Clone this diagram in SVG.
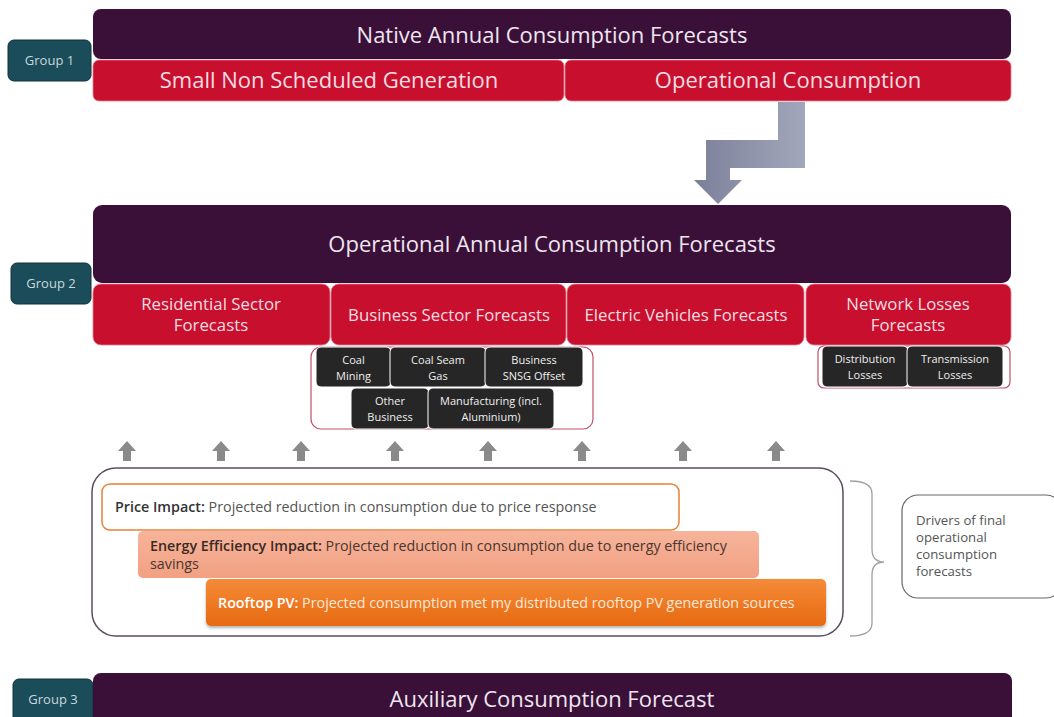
<svg xmlns="http://www.w3.org/2000/svg" width="1054" height="717" viewBox="0 0 1054 717">
<defs>
<style>
text{font-family:"Open Sans","Noto Sans","DejaVu Sans",sans-serif}
.grp{fill:#1b4c59;stroke:#10323c;stroke-width:1}
.grpt{fill:#c9d9dd;font-size:13px;text-anchor:middle}
.purple{fill:#3a1039}
.pt{fill:#eee6ee;font-size:22px;text-anchor:middle}
.red{fill:#c8102e;stroke:#e08090;stroke-width:0.8}
.rt{fill:#f6dde1;font-size:22px;text-anchor:middle}
.rt2{fill:#f6dde1;font-size:16.8px;text-anchor:middle}
.blk{fill:#262626;stroke:#ffffff;stroke-width:1}
.bt{fill:#f0f0f0;font-size:11px;text-anchor:middle}
.sub{fill:#ffffff;stroke:#c0506a;stroke-width:1.2}
.up{fill:#8a8a8a}
.dt{font-size:14.3px}
.bold{font-weight:600}
.note{font-size:13.2px;fill:#555555}
</style>
<linearGradient id="arrowGrad" x1="0" y1="0" x2="1" y2="0">
<stop offset="0" stop-color="#7b8099"/>
<stop offset="1" stop-color="#a3a7bb"/>
</linearGradient>
<linearGradient id="eeGrad" x1="0" y1="0" x2="0" y2="1">
<stop offset="0" stop-color="#f6b49a"/>
<stop offset="1" stop-color="#f2a083"/>
</linearGradient>
<linearGradient id="pvGrad" x1="0" y1="0" x2="0" y2="1">
<stop offset="0" stop-color="#f48a38"/>
<stop offset="1" stop-color="#e86a12"/>
</linearGradient>
<filter id="sh" x="-5%" y="-20%" width="110%" height="150%">
<feDropShadow dx="0" dy="2" stdDeviation="1.5" flood-color="#000" flood-opacity="0.3"/>
</filter>
</defs>
<rect width="1054" height="717" fill="#ffffff"/>

<g id="group1-label">
<rect class="grp" x="8" y="40" width="83" height="41" rx="6"/>
<text class="grpt" x="49.5" y="65">Group 1</text>
</g>
<g id="native">
<rect class="purple" x="93" y="9" width="918" height="50" rx="8"/>
<text class="pt" x="552" y="43">Native Annual Consumption Forecasts</text>
</g>
<g id="snsg">
<rect class="red" x="93" y="60" width="471" height="41" rx="6"/>
<text class="rt" x="329" y="88">Small Non Scheduled Generation</text>
</g>
<g id="opcons">
<rect class="red" x="565" y="60" width="446" height="41" rx="6"/>
<text class="rt" x="788" y="88">Operational Consumption</text>
</g>

<g id="connectors">
<polygon fill="url(#arrowGrad)" points="778,102 805,102 805,168 730,168 730,180 742,180 718,204 694,180 706,180 706,140 778,140"/>
<g id="up-arrows" class="up">
<polygon points="127,441 136,451 131,451 131,461 123,461 123,451 118,451"/>
<polygon points="221,441 230,451 225,451 225,461 217,461 217,451 212,451"/>
<polygon points="301,441 310,451 305,451 305,461 297,461 297,451 292,451"/>
<polygon points="395,441 404,451 399,451 399,461 391,461 391,451 386,451"/>
<polygon points="488,441 497,451 492,451 492,461 484,461 484,451 479,451"/>
<polygon points="582,441 591,451 586,451 586,461 578,461 578,451 573,451"/>
<polygon points="683,441 692,451 687,451 687,461 679,461 679,451 674,451"/>
<polygon points="776,441 785,451 780,451 780,461 772,461 772,451 767,451"/>
</g>
<path d="M850,481 Q872,481 872,494 L872,549 Q872,562 884,562 Q872,562 872,575 L872,623 Q872,636 850,636" fill="none" stroke="#a0a0a0" stroke-width="1.3"/>
</g>

<g id="group2-label">
<rect class="grp" x="11" y="263" width="80" height="41" rx="6"/>
<text class="grpt" x="51" y="288">Group 2</text>
</g>
<g id="opannual">
<rect class="purple" x="93" y="205" width="918" height="78" rx="9"/>
<text class="pt" x="552" y="252">Operational Annual Consumption Forecasts</text>
</g>
<g id="residential">
<rect class="red" x="93" y="284" width="237" height="61" rx="8"/>
<text class="rt2" x="211" y="310">Residential Sector</text>
<text class="rt2" x="211" y="331">Forecasts</text>
</g>
<g id="business">
<rect class="red" x="331" y="284" width="235" height="61" rx="8"/>
<text class="rt2" x="449" y="321">Business Sector Forecasts</text>
</g>
<g id="ev">
<rect class="red" x="567" y="284" width="237" height="61" rx="8"/>
<text class="rt2" x="686" y="321">Electric Vehicles Forecasts</text>
</g>
<g id="network">
<rect class="red" x="806" y="284" width="205" height="61" rx="8"/>
<text class="rt2" x="908" y="310">Network Losses</text>
<text class="rt2" x="908" y="331">Forecasts</text>
</g>

<g id="business-subgroup">
<rect class="sub" x="311" y="347" width="282" height="82" rx="10"/>
</g>
<g id="coal-mining">
<rect class="blk" x="316" y="347" width="75" height="40" rx="5"/>
<text class="bt" x="353.5" y="364">Coal</text>
<text class="bt" x="353.5" y="380">Mining</text>
</g>
<g id="coal-seam-gas">
<rect class="blk" x="390" y="347" width="96" height="40" rx="5"/>
<text class="bt" x="438" y="364">Coal Seam</text>
<text class="bt" x="438" y="380">Gas</text>
</g>
<g id="snsg-offset">
<rect class="blk" x="485" y="347" width="98" height="40" rx="5"/>
<text class="bt" x="534" y="364">Business</text>
<text class="bt" x="534" y="380">SNSG Offset</text>
</g>
<g id="other-business">
<rect class="blk" x="351" y="388" width="78" height="41" rx="5"/>
<text class="bt" x="390" y="405">Other</text>
<text class="bt" x="390" y="421">Business</text>
</g>
<g id="manufacturing">
<rect class="blk" x="428" y="388" width="126" height="41" rx="5"/>
<text class="bt" x="491" y="405">Manufacturing (incl.</text>
<text class="bt" x="491" y="421">Aluminium)</text>
</g>

<g id="network-subgroup">
<rect class="sub" x="818" y="346" width="192" height="42" rx="6"/>
</g>
<g id="distribution">
<rect class="blk" x="822" y="346" width="86" height="41" rx="5"/>
<text class="bt" x="865" y="363">Distribution</text>
<text class="bt" x="865" y="379">Losses</text>
</g>
<g id="transmission">
<rect class="blk" x="907" y="346" width="96" height="41" rx="5"/>
<text class="bt" x="955" y="363">Transmission</text>
<text class="bt" x="955" y="379">Losses</text>
</g>

<g id="drivers-container">
<rect x="92" y="468" width="751" height="168" rx="24" fill="#ffffff" stroke="#5d4d60" stroke-width="1.5"/>
</g>
<g id="price">
<rect x="102" y="484" width="577" height="46" rx="8" fill="#ffffff" stroke="#e8803a" stroke-width="1.5"/>
<text class="dt" x="115" y="512" fill="#555555"><tspan class="bold" fill="#333333">Price Impact:</tspan> Projected reduction in consumption due to price response</text>
</g>
<g id="energy-efficiency">
<rect x="138" y="531" width="621" height="47" rx="5" fill="url(#eeGrad)"/>
<text class="dt" x="150" y="551" fill="#4a3530"><tspan class="bold" fill="#3a2a25">Energy Efficiency Impact:</tspan> Projected reduction in consumption due to energy efficiency</text>
<text class="dt" x="150" y="569" fill="#4a3530">savings</text>
</g>
<g id="rooftop-pv">
<rect x="206" y="579" width="620" height="47" rx="5" fill="url(#pvGrad)" filter="url(#sh)"/>
<text class="dt" x="218" y="608" fill="#fde8d8"><tspan class="bold" fill="#ffffff">Rooftop PV:</tspan> Projected consumption met my distributed rooftop PV generation sources</text>
</g>

<g id="drivers-note">
<rect x="902" y="495" width="160" height="103" rx="16" fill="#ffffff" stroke="#666666" stroke-width="1.2"/>
<text class="note" x="916" y="525">Drivers of final</text>
<text class="note" x="916" y="542">operational</text>
<text class="note" x="916" y="559">consumption</text>
<text class="note" x="916" y="576">forecasts</text>
</g>

<g id="group3-label">
<rect class="grp" x="13" y="679" width="80" height="50" rx="6"/>
<text class="grpt" x="53" y="704">Group 3</text>
</g>
<g id="auxiliary">
<rect class="purple" x="93" y="673" width="919" height="60" rx="8"/>
<text class="pt" x="552" y="707">Auxiliary Consumption Forecast</text>
</g>
</svg>
